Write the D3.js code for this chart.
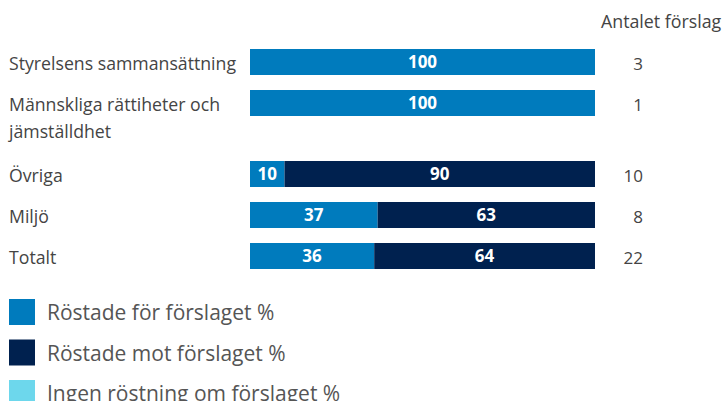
<!DOCTYPE html>
<html>
<head>
<meta charset="utf-8">
<script src="https://cdn.jsdelivr.net/npm/d3@7"></script>
<style>
  body { margin: 0; background: #fff; }
  svg { display: block; font-family: "Open Sans", sans-serif; }
</style>
</head>
<body>
<div id="chart"></div>
<script>
// data
const categories = ["Styrelsens sammansättning", "Männskliga rättiheter och|jämställdhet", "Övriga", "Miljö", "Totalt"];
const votedFor = [100, 100, 10, 37, 36];
const votedAgainst = [0, 0, 90, 63, 64];
const noVote = [0, 0, 0, 0, 0];
const proposals = [3, 1, 10, 8, 22];
const seriesNames = ["Röstade för förslaget %", "Röstade mot förslaget %", "Ingen röstning om förslaget %"];
const colors = ["#007bbd", "#00214f", "#6dd7ec"];

let width = 725, height = 401;

const svg = d3.select("#chart").append("svg")
  .attr("width", width)
  .attr("height", height);

let x = d3.scaleLinear().domain([0, 100]).range([250, 595]);
// step of 41px, bars 26px high
let y = d3.scaleBand().domain(d3.range(categories.length))
  .range([49, 49 + 41 * categories.length - 15])
  .paddingInner(15 / 41).paddingOuter(0);

// extra room after a two-line label
const extra = d => categories.slice(0, d).some(c => c.includes("|")) ? 30 : 0;
const rowY = i => y(i) + extra(i);

const rows = categories.map((c, i) => {
  let x0 = 0;
  const segs = [votedFor[i], votedAgainst[i], noVote[i]].map((v, k) => {
    const s = { key: k, x0: x0, x1: x0 + v, value: v };
    x0 += v;
    return s;
  });
  return { i: i, name: c, segs: segs };
});

// header
svg.append("text")
  .attr("x", 601)
  .attr("y", 28)
  .attr("fill", "#444")
  .style("font-size", "17.8px")
  .text("Antalet förslag");

const row = svg.selectAll("g.row")
  .data(rows)
  .join("g")
  .attr("class", "row")
  .attr("transform", d => "translate(0," + rowY(d.i) + ")");

// category labels
row.append("text")
  .attr("fill", "#444")
  .style("font-size", "17.7px")
  .selectAll("tspan")
  .data(d => d.name.split("|"))
  .join("tspan")
  .attr("x", 9)
  .attr("y", (_, j) => y.bandwidth() / 2 + 8 + j * 27)
  .text(t => t);

// bars
row.selectAll("rect")
  .data(d => d.segs.filter(s => s.value > 0))
  .join("rect")
  .attr("x", s => x(s.x0))
  .attr("width", s => x(s.x1) - x(s.x0))
  .attr("y", 0)
  .attr("height", y.bandwidth())
  .attr("fill", s => colors[s.key]);

row.selectAll("text.val")
  .data(d => d.segs.filter(s => s.value > 0))
  .join("text")
  .attr("class", "val")
  .attr("x", s => (x(s.x0) + x(s.x1)) / 2)
  .attr("y", y.bandwidth() / 2 + 6)
  .attr("text-anchor", "middle")
  .attr("fill", "#fff")
  .style("font-size", "17px")
  .style("font-weight", "bold")
  .text(s => s.value);

// counts
row.append("text")
  .attr("x", 643)
  .attr("y", y.bandwidth() / 2 + 8)
  .attr("text-anchor", "end")
  .attr("fill", "#444")
  .style("font-size", "17px")
  .text(d => proposals[d.i]);

// legend
const legend = svg.selectAll("g.legend")
  .data(seriesNames)
  .join("g")
  .attr("class", "legend")
  .attr("transform", (_, i) => "translate(9," + (299 + i * 40.5) + ")");

legend.append("rect")
  .attr("width", 26)
  .attr("height", 26)
  .attr("fill", (_, i) => colors[i]);

legend.append("text")
  .attr("x", 38)
  .attr("y", 21)
  .attr("fill", "#555")
  .style("font-size", "21px")
  .text(d => d);
</script>
</body>
</html>
